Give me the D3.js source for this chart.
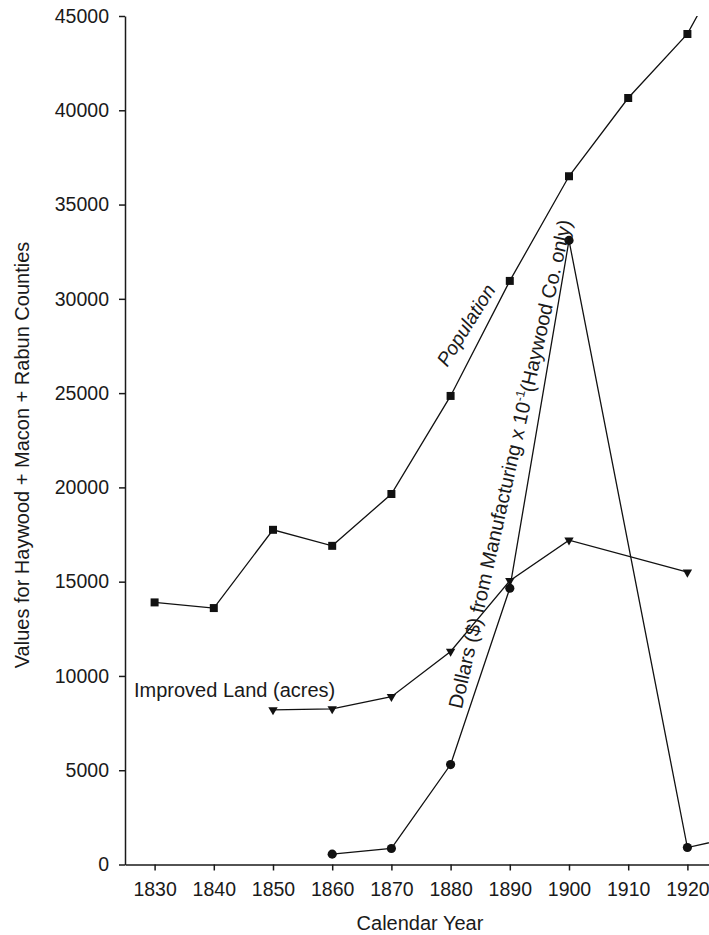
<!DOCTYPE html>
<html lang="en">
<head>
<meta charset="UTF-8">
<script src="https://cdn.jsdelivr.net/npm/d3@7"></script>
<title>Haywood + Macon + Rabun</title>
<style>
  body { margin: 0; background: #fff; }
  text { font-family: "Liberation Sans", Arial, sans-serif; fill: #1a1a1a; }
</style>
</head>
<body>
<script>
// census values
var popYears  = [1830, 1840, 1850, 1860, 1870, 1880, 1890, 1900, 1910, 1920, 1930];
var popValues = [13900, 13600, 17750, 16900, 19650, 24850, 30950, 36500, 40650, 44050, 49800];

var landYears  = [1850, 1860, 1870, 1880, 1890, 1900, 1920];
var landValues = [8200, 8250, 8900, 11300, 15050, 17200, 15500];

var mfgYears  = [1860, 1870, 1880, 1890, 1900, 1920, 1930];
var mfgValues = [550, 850, 5300, 14650, 33100, 900, 1600];

var xTicks = [1830, 1840, 1850, 1860, 1870, 1880, 1890, 1900, 1910, 1920];
var yTicks = [0, 5000, 10000, 15000, 20000, 25000, 30000, 35000, 40000, 45000];

var w = 709, h = 935;
var padLeft = 125, padTop = 16, padBottom = 864.5;

var xScale = d3.scaleLinear().domain([1825, 1935]).range([padLeft, padLeft + 110 * 5.92]);
var yScale = d3.scaleLinear().domain([0, 45000]).range([padBottom, padTop]);

var svg = d3.select("body").append("svg")
    .attr("width", w)
    .attr("height", h);

svg.append("clipPath").attr("id", "plot")
  .append("rect")
    .attr("x", padLeft).attr("y", padTop)
    .attr("width", 800).attr("height", padBottom - padTop);

// axes
svg.append("g")
    .attr("transform", "translate(" + padLeft + ",0)")
    .call(d3.axisLeft(yScale).tickValues(yTicks).tickFormat(d3.format("d"))
          .tickSize(6).tickSizeOuter(0).tickPadding(10));

svg.append("g")
    .attr("transform", "translate(0," + padBottom + ")")
    .call(d3.axisBottom(xScale).tickValues(xTicks).tickFormat(d3.format("d"))
          .tickSize(6).tickSizeOuter(0).tickPadding(12));

svg.selectAll(".domain, .tick line").attr("stroke", "#1a1a1a").attr("stroke-width", 1.5);
svg.selectAll(".tick text").attr("font-size", "19.5px").attr("font-family", null).attr("fill", "#1a1a1a");

// series
function toPoints(xs, ys) {
    return xs.map(function (d, i) { return { x: d, y: ys[i] }; });
}

var series = [
    { data: toPoints(popYears, popValues), symbol: d3.symbolSquare, size: 64, rot: 0 },
    { data: toPoints(landYears, landValues), symbol: d3.symbolTriangle, size: 38, rot: 180 },
    { data: toPoints(mfgYears, mfgValues), symbol: d3.symbolCircle, size: 66, rot: 0 }
];

var line = d3.line()
    .x(function (d) { return xScale(d.x); })
    .y(function (d) { return yScale(d.y); });

var plot = svg.append("g").attr("clip-path", "url(#plot)");

series.forEach(function (s) {
    plot.append("path")
        .datum(s.data)
        .attr("d", line)
        .attr("fill", "none")
        .attr("stroke", "#111")
        .attr("stroke-width", 1.3);

    plot.selectAll(null)
        .data(s.data)
        .enter()
        .append("path")
        .attr("d", d3.symbol().type(s.symbol).size(s.size))
        .attr("transform", function (d) {
            return "translate(" + xScale(d.x) + "," + yScale(d.y) + ") rotate(" + s.rot + ")";
        })
        .attr("fill", "#111");
});

// labels
svg.append("text")
    .attr("transform", "translate(466,325) rotate(-58)")
    .attr("text-anchor", "middle")
    .attr("dy", "0.35em")
    .attr("font-size", "19.5px")
    .attr("font-style", "italic")
    .text("Population");

svg.append("text")
    .attr("x", 134)
    .attr("y", 697)
    .attr("font-size", "20px")
    .text("Improved Land (acres)");

var mfg = svg.append("text")
    .attr("transform", "translate(510,464) rotate(-77.3)")
    .attr("text-anchor", "middle")
    .attr("dy", "0.35em")
    .attr("font-size", "20px");
mfg.append("tspan").text("Dollars ($) from Manufacturing x 10");
mfg.append("tspan").attr("font-size", "12.5px").attr("dy", "-8").text("-1");
mfg.append("tspan").attr("dy", "8").text("(Haywood Co. only)");

svg.append("text")
    .attr("transform", "translate(29,455) rotate(-90)")
    .attr("text-anchor", "middle")
    .attr("font-size", "20px")
    .text("Values for Haywood + Macon + Rabun Counties");

svg.append("text")
    .attr("x", 420)
    .attr("y", 930)
    .attr("text-anchor", "middle")
    .attr("font-size", "20px")
    .text("Calendar Year");
</script>
</body>
</html>
